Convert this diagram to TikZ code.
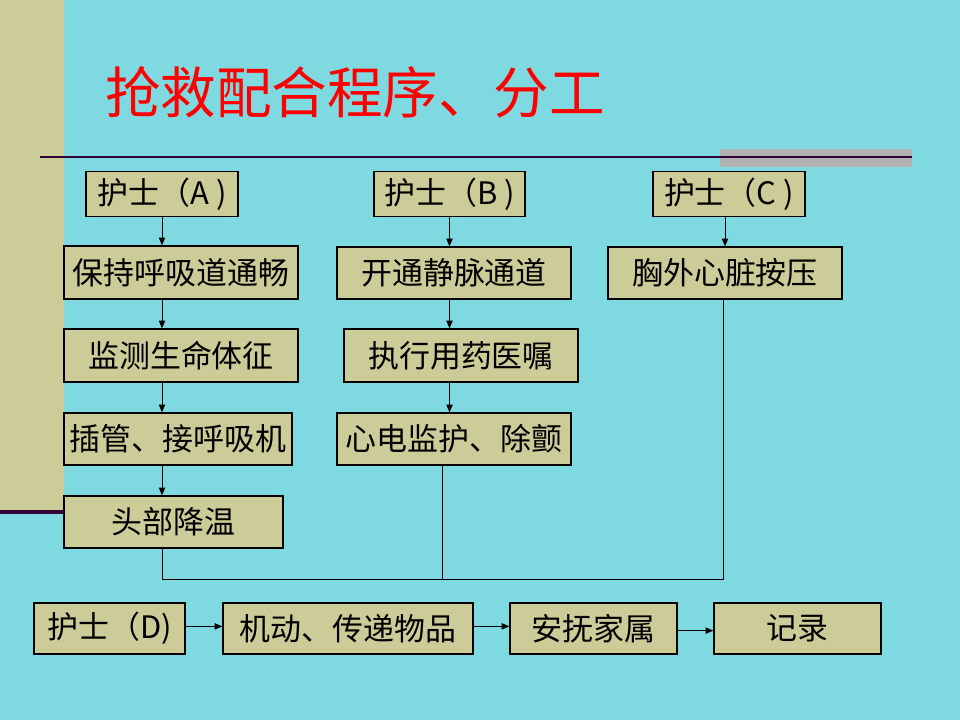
\documentclass[tikz,border=0pt]{standalone}
\usepackage{fontspec}
\setmainfont{Noto Sans CJK SC}
\usetikzlibrary{arrows.meta}
\definecolor{bgcyan}{HTML}{7FD9E0}
\definecolor{khaki}{HTML}{CCCC99}
\definecolor{darkplum}{HTML}{330033}
\definecolor{bargray}{HTML}{B2B2B2}

\begin{document}
\begin{tikzpicture}[x=0.025cm,y=-0.025cm,
    box/.style={draw=black,line width=0.9pt,fill=khaki,inner sep=0pt,
        font=\fontsize{22}{24}\selectfont},
    arr/.style={-{Triangle[length=5.5pt,width=4.5pt]},line width=0.7pt},
    link/.style={line width=0.7pt}]
     \useasboundingbox (0,0) rectangle (960,720);
     % slide background
     \fill[bgcyan] (0,0) rectangle (960,720);
     \fill[khaki] (0,0) rectangle (64,511);
     \draw[darkplum,line width=3pt] (0,512) -- (64,512);
     \fill[bargray] (720,149) rectangle (912,167);
     \draw[darkplum,line width=2pt] (40,157) -- (912,157);
     \node(title) at (355,92)
        {\fontsize{39.5}{42}\selectfont\color{red}抢救配合程序、分工};

     % nurse A
     \node[box,minimum width=3.8cm,minimum height=1.125cm](nA) at (162,194) {护士（A )};
     \node[box,minimum width=5.85cm,minimum height=1.325cm](a1) at (181,272.5) {保持呼吸道通畅};
     \node[box,minimum width=5.85cm,minimum height=1.325cm](a2) at (181,355.5) {监测生命体征};
     \node[box,minimum width=5.7cm,minimum height=1.3cm](a3) at (178,439) {插管、接呼吸机};
     \node[box,minimum width=5.475cm,minimum height=1.3cm](a4) at (173.5,522) {头部降温};
     % nurse B
     \node[box,minimum width=3.775cm,minimum height=1.125cm](nB) at (449.5,194) {护士（B )};
     \node[box,minimum width=5.85cm,minimum height=1.3cm](b1) at (454,273) {开通静脉通道};
     \node[box,minimum width=5.85cm,minimum height=1.325cm](b2) at (461,355.5) {执行用药医嘱};
     \node[box,minimum width=5.85cm,minimum height=1.3cm](b3) at (454,439) {心电监护、除颤};
     % nurse C
     \node[box,minimum width=3.8cm,minimum height=1.125cm](nC) at (729,194) {护士（C )};
     \node[box,minimum width=5.85cm,minimum height=1.3cm](c1) at (725,273) {胸外心脏按压};
     % nurse D
     \node[box,minimum width=3.775cm,minimum height=1.275cm](d0) at (109.5,628.5) {护士（D)};
     \node[box,minimum width=6.25cm,minimum height=1.275cm](d1) at (348,628.5) {机动、传递物品};
     \node[box,minimum width=4.175cm,minimum height=1.275cm](d2) at (593.5,628.5) {安抚家属};
     \node[box,minimum width=4.175cm,minimum height=1.275cm](d3) at (797.5,628.5) {记录};

     \draw[arr] (nA.south) -- (nA.south |- a1.north);
     \draw[arr] (a1.south -| nA) -- (a2.north -| nA);
     \draw[arr] (a2.south -| nA) -- (a3.north -| nA);
     \draw[arr] (a3.south -| nA) -- (a4.north -| nA);
     \draw[arr] (nB.south) -- (nB.south |- b1.north);
     \draw[arr] (b1.south -| nB) -- (b2.north -| nB);
     \draw[arr] (b2.south -| nB) -- (b3.north -| nB);
     \draw[arr] (nC.south -| c1) -- (c1.north);

     % joining line
     \coordinate(jL) at (162,579);
     \coordinate(jB) at (442,579);
     \coordinate(jR) at (723,579);
     \draw[link] (a4.south -| jL) -- (jL) -- (jR) -- (c1.south -| jR);
     \draw[link] (b3.south -| jB) -- (jB);

     \draw[arr] ([yshift=1.5pt]d0.east) -- ([yshift=1.5pt]d1.west);
     \draw[arr] ([yshift=1.5pt]d1.east) -- ([yshift=1.5pt]d2.west);
     \draw[arr] ([yshift=-1.5pt]d2.east) -- ([yshift=-1.5pt]d3.west);
\end{tikzpicture}
\end{document}
